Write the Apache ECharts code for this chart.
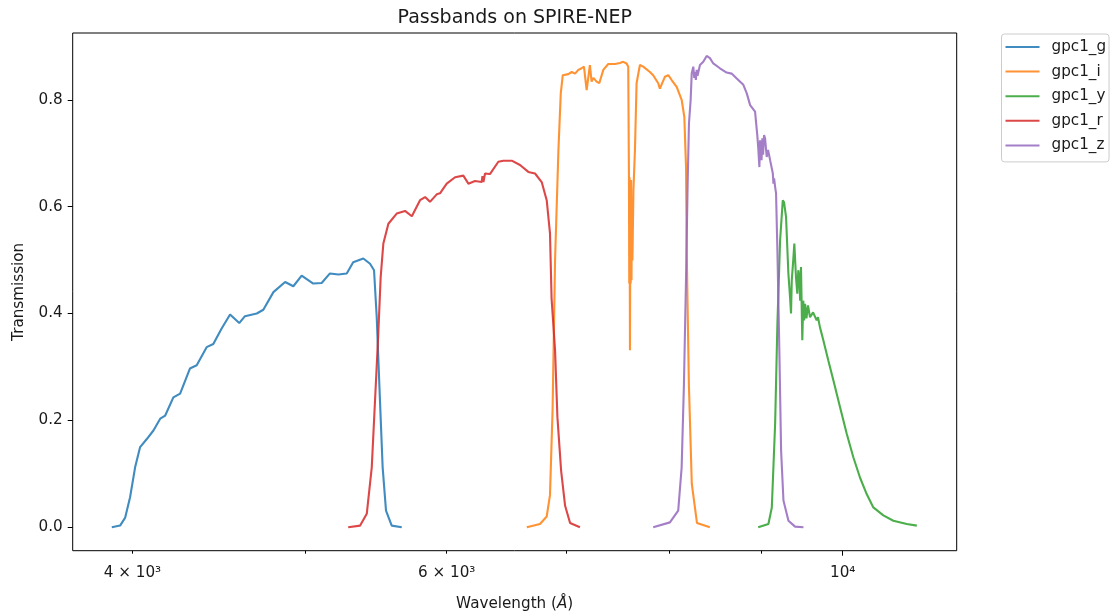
<!DOCTYPE html>
<html>
<head>
<meta charset="utf-8">
<script src="https://cdn.jsdelivr.net/npm/echarts@6/dist/echarts.min.js"></script>
<style>
html,body{margin:0;padding:0;background:#fff;}
#c{width:1111px;height:615px;}
</style>
</head>
<body>
<div id="c"></div>
<script>
// ---------------- data (wavelength in Å, transmission) ----------------
const seriesNames = ['gpc1_g', 'gpc1_i', 'gpc1_y', 'gpc1_r', 'gpc1_z'];

const wl_g = [3895,3937,3963,3988,4014,4040,4075,4110,4146,4173,4217,4254,4308,4346,4402,4440,4488,4537,4591,4625,4696,4736,4798,4871,4923,4976,5051,5106,5161,5217,5274,5318,5388,5435,5463,5482,5505,5524,5548,5589,5662];
const tr_g = [0,0.003,0.018,0.056,0.112,0.150,0.165,0.181,0.203,0.209,0.243,0.250,0.297,0.303,0.337,0.343,0.372,0.398,0.382,0.395,0.400,0.407,0.440,0.459,0.451,0.471,0.456,0.457,0.475,0.473,0.475,0.496,0.503,0.493,0.481,0.393,0.237,0.112,0.031,0.003,0];

const wl_i = [6653,6767,6826,6855,6878,6900,6930,6951,6969,7019,7050,7080,7110,7141,7162,7187,7199,7217,7233,7250,7280,7305,7343,7390,7454,7502,7534,7567,7583,7590,7593,7596,7600,7604,7607,7611,7615,7619,7624,7634,7649,7665,7698,7731,7798,7831,7882,7899,7950,7985,8020,8072,8124,8152,8170,8177,8200,8231,8286,8425];
const tr_i = [0,0.006,0.02,0.06,0.22,0.50,0.706,0.812,0.846,0.848,0.852,0.849,0.856,0.859,0.862,0.818,0.837,0.865,0.834,0.841,0.834,0.831,0.856,0.867,0.867,0.869,0.871,0.868,0.862,0.656,0.456,0.655,0.331,0.612,0.456,0.650,0.462,0.612,0.499,0.631,0.706,0.831,0.865,0.862,0.852,0.846,0.831,0.821,0.843,0.846,0.837,0.824,0.800,0.768,0.674,0.518,0.268,0.081,0.008,0];

const wl_y = [8967,9086,9126,9165,9192,9224,9256,9271,9295,9323,9343,9355,9364,9380,9395,9415,9431,9443,9455,9466,9476,9492,9504,9514,9526,9543,9562,9587,9625,9670,9686,9711,9753,9816,9880,9965,10052,10138,10225,10314,10403,10538,10675,10862,11003];
const tr_y = [0,0.006,0.037,0.193,0.381,0.537,0.612,0.608,0.581,0.475,0.431,0.400,0.462,0.496,0.531,0.468,0.437,0.481,0.468,0.424,0.487,0.350,0.424,0.387,0.418,0.391,0.415,0.393,0.402,0.387,0.393,0.374,0.350,0.312,0.275,0.225,0.175,0.131,0.093,0.062,0.037,0.022,0.012,0.006,0.003];

const wl_r = [5284,5366,5412,5447,5470,5493,5510,5529,5565,5625,5686,5736,5797,5835,5872,5923,5948,6000,6065,6130,6170,6223,6277,6283,6291,6304,6344,6413,6455,6525,6595,6666,6724,6782,6826,6855,6869,6885,6900,6921,6954,6990,7035,7125];
const tr_r = [0,0.003,0.025,0.112,0.237,0.362,0.468,0.531,0.568,0.587,0.592,0.582,0.612,0.618,0.609,0.623,0.625,0.643,0.655,0.658,0.643,0.648,0.646,0.657,0.646,0.662,0.661,0.684,0.686,0.686,0.678,0.665,0.662,0.646,0.612,0.550,0.428,0.425,0.331,0.206,0.106,0.040,0.008,0];

const wl_z = [7831,8002,8088,8124,8148,8169,8187,8201,8207,8219,8230,8247,8257,8265,8274,8283,8292,8318,8354,8390,8426,8462,8535,8609,8665,8722,8797,8836,8874,8931,8958,8969,8981,8988,8997,9006,9015,9024,9035,9047,9066,9082,9106,9138,9145,9153,9165,9176,9192,9215,9236,9264,9324,9404,9506];
const tr_z = [0,0.009,0.031,0.112,0.268,0.456,0.643,0.756,0.753,0.800,0.849,0.862,0.841,0.852,0.837,0.856,0.845,0.865,0.871,0.882,0.878,0.868,0.859,0.851,0.849,0.840,0.828,0.812,0.790,0.778,0.731,0.706,0.674,0.724,0.712,0.687,0.728,0.697,0.734,0.728,0.693,0.706,0.687,0.662,0.643,0.653,0.637,0.625,0.518,0.331,0.143,0.050,0.012,0.001,0];

// tick labels
const xLabelValues = [4000, 6000, 10000];
const xLabelTexts = ['4 × 10³', '6 × 10³', '10⁴'];
const xMajorTicks = [10000];
const xMinorTicks = [4000, 5000, 6000, 7000, 8000, 9000];
const yTicks = [0, 0.2, 0.4, 0.6, 0.8];

// ---------------- chart ----------------
const wls = [wl_g, wl_i, wl_y, wl_r, wl_z];
const trs = [tr_g, tr_i, tr_y, tr_r, tr_z];
const colors = ['#1f77b4', '#ff7f0e', '#2ca02c', '#d62728', '#9467bd'];

const xMin = 3703.5, xMax = 11584;
const L = Math.log10;
const FONT = 'DejaVu Sans';
const TXT = '#1a1a1a';
const FS = 15.2;

const chart = echarts.init(document.getElementById('c'), null, {renderer: 'canvas', width: 1111, height: 615});

const option = {
  animation: false,
  backgroundColor: '#ffffff',
  textStyle: {fontFamily: FONT},
  graphic: [{
    type: 'text',
    x: 514.7, y: 18,
    style: {
      text: 'Passbands on SPIRE-NEP',
      fontFamily: FONT, fontSize: 19,
      fill: TXT, align: 'center', verticalAlign: 'middle'
    }
  }],
  grid: {
    left: 72.7, right: 154.3, top: 33, bottom: 64.3,
    show: true, borderColor: '#000', borderWidth: 1, backgroundColor: 'transparent',
    outerBoundsMode: 'none', containLabel: false
  },
  legend: {
    orient: 'vertical',
    left: 1001.5, top: 34,
    padding: [5.5, 3, 9, 4],
    itemWidth: 34, itemHeight: 2, itemGap: 9.6,
    icon: 'rect',
    borderColor: '#cccccc', borderWidth: 1, borderRadius: 3,
    backgroundColor: '#fff',
    textStyle: {fontFamily: FONT, fontSize: FS, color: TXT, padding: [0, 0, 0, 7]},
    itemStyle: {opacity: 0.85},
    data: seriesNames
  },
  xAxis: [
    {
      type: 'log', logBase: 10, min: xMin, max: xMax, position: 'bottom',
      show: false, splitLine: {show: false}
    },
    {
      type: 'value', min: L(xMin), max: L(xMax), position: 'bottom', offset: 0,
      axisLine: {show: false}, splitLine: {show: false},
      axisTick: {show: true, customValues: xMajorTicks.map(L), length: 5, lineStyle: {color: '#000', width: 1}},
      axisLabel: {
        show: true, customValues: xLabelValues.map(L), margin: 15,
        fontFamily: FONT, fontSize: FS, color: TXT,
        formatter: function (v) {
          const w = Math.round(Math.pow(10, v));
          const k = xLabelValues.indexOf(w);
          return k >= 0 ? xLabelTexts[k] : '';
        }
      },
      name: 'Wavelength ({it|Å})',
      nameLocation: 'middle', nameGap: 46,
      nameTextStyle: {fontFamily: FONT, fontSize: FS, color: TXT,
        rich: {it: {fontFamily: FONT, fontSize: FS, color: TXT, fontStyle: 'italic'}}}
    },
    {
      type: 'value', min: L(xMin), max: L(xMax), position: 'bottom', offset: 0,
      axisLine: {show: false}, splitLine: {show: false},
      axisTick: {show: true, customValues: xMinorTicks.map(L), length: 3, lineStyle: {color: '#000', width: 1}},
      axisLabel: {show: false}
    }
  ],
  yAxis: {
    type: 'value', min: -0.044, max: 0.925,
    axisLine: {show: false}, splitLine: {show: false},
    axisTick: {show: true, customValues: yTicks, length: 5, lineStyle: {color: '#000', width: 1}},
    axisLabel: {
      customValues: yTicks, margin: 10,
      fontFamily: FONT, fontSize: FS, color: TXT,
      formatter: function (v) { return v.toFixed(1); }
    },
    name: 'Transmission', nameLocation: 'middle', nameGap: 46,
    nameTextStyle: {fontFamily: FONT, fontSize: FS, color: TXT}
  },
  series: seriesNames.map(function (n, i) {
    return {
      name: n, type: 'line', xAxisIndex: 0, yAxisIndex: 0,
      data: wls[i].map(function (w, j) { return [w, trs[i][j]]; }),
      showSymbol: false, symbol: 'none',
      lineStyle: {width: 2.1, color: colors[i], opacity: 0.85},
      itemStyle: {color: colors[i]},
      emphasis: {disabled: true}
    };
  })
};

chart.setOption(option);
</script>
</body>
</html>
